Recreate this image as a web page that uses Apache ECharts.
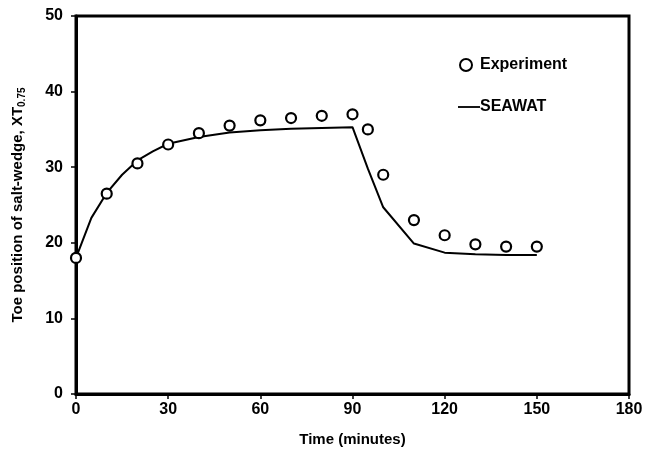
<!DOCTYPE html>
<html><head><meta charset="utf-8">
<script src="https://cdn.jsdelivr.net/npm/echarts@6/dist/echarts.min.js"></script>
<style>html,body{margin:0;padding:0;background:#fff}#c{width:653px;height:456px}</style>
</head><body><div id="c"></div>
<script>
const expTime = [0,10,20,30,40,50,60,70,80,90,95,100,110,120,130,140,150];
const expValue = [18,26.5,30.5,33,34.5,35.5,36.2,36.5,36.8,37,35,29,23,21,19.8,19.5,19.5];
const simTime = [0,5,10,15,20,25,30,40,50,60,70,80,90,95,100,110,120,130,140,150];
const simValue = [18,23.3,26.6,29,30.9,32.1,33.1,34.0,34.6,34.9,35.1,35.2,35.3,29.8,24.7,19.9,18.7,18.5,18.4,18.4];
const xTicks = [0,30,60,90,120,150,180];
const yTicks = [0,10,20,30,40,50];

const font = '"Liberation Sans", Arial, sans-serif';
const txt = {fontFamily: font, fontWeight: 'bold', fontSize: 16, color: '#000'};
const ttl = {fontFamily: font, fontWeight: 'bold', fontSize: 15, color: '#000'};
const chart = echarts.init(document.getElementById('c'));
chart.setOption({
  animation: false,
  backgroundColor: '#fff',
  grid: {left: 76, right: 24, top: 16, bottom: 62, show: true, borderColor: '#000', borderWidth: 3, backgroundColor: 'transparent'},
  legend: [
    {data: [{name: 'Experiment', icon: 'circle'}], left: 454, top: 52, itemWidth: 12, itemHeight: 12, itemGap: 8,
     textStyle: Object.assign({}, txt, {padding: [0,0,0,3]})},
    {data: [{name: 'SEAWAT', icon: 'path://M0,0 L24,0 L24,2 L0,2 Z'}], left: 453, top: 94, itemWidth: 22, itemHeight: 2, itemGap: 3,
     textStyle: Object.assign({}, txt, {padding: [0,0,0,-5]})}
  ],
  xAxis: {
    type: 'value', min: 0, max: 180, interval: 30,
    name: 'Time (minutes)', nameLocation: 'middle', nameGap: 38,
    nameTextStyle: ttl,
    axisLine: {show: true, lineStyle: {color: '#000', width: 3}},
    axisTick: {show: true, length: 5, lineStyle: {color: '#000', width: 1.5}},
    axisLabel: Object.assign({margin: 8, formatter: v => xTicks.includes(v) ? String(v) : ''}, txt),
    splitLine: {show: false}
  },
  yAxis: {
    type: 'value', min: 0, max: 50, interval: 10,
    name: '{a|Toe position of salt-wedge, XT}{s|0.75}', nameLocation: 'middle', nameGap: 49,
    nameTextStyle: {rich: {
      a: ttl,
      s: {fontFamily: font, fontWeight: 'bold', fontSize: 10, color: '#000', padding: [8,0,0,0]}
    }},
    axisLine: {show: true, lineStyle: {color: '#000', width: 3}},
    axisTick: {show: true, length: 5, lineStyle: {color: '#000', width: 1.5}},
    axisLabel: Object.assign({margin: 13, formatter: v => yTicks.includes(v) ? String(v) : ''}, txt),
    splitLine: {show: false}
  },
  series: [
    {name: 'SEAWAT', type: 'line', data: simTime.map((t,i)=>[t, simValue[i]]),
     symbol: 'none', lineStyle: {color: '#000', width: 2}, itemStyle: {color: '#000'}, z: 2},
    {name: 'Experiment', type: 'scatter', data: expTime.map((t,i)=>[t, expValue[i]]),
     symbol: 'circle', symbolSize: 10,
     itemStyle: {color: '#fff', borderColor: '#000', borderWidth: 2.2, opacity: 1}, z: 3}
  ]
});
</script></body></html>
